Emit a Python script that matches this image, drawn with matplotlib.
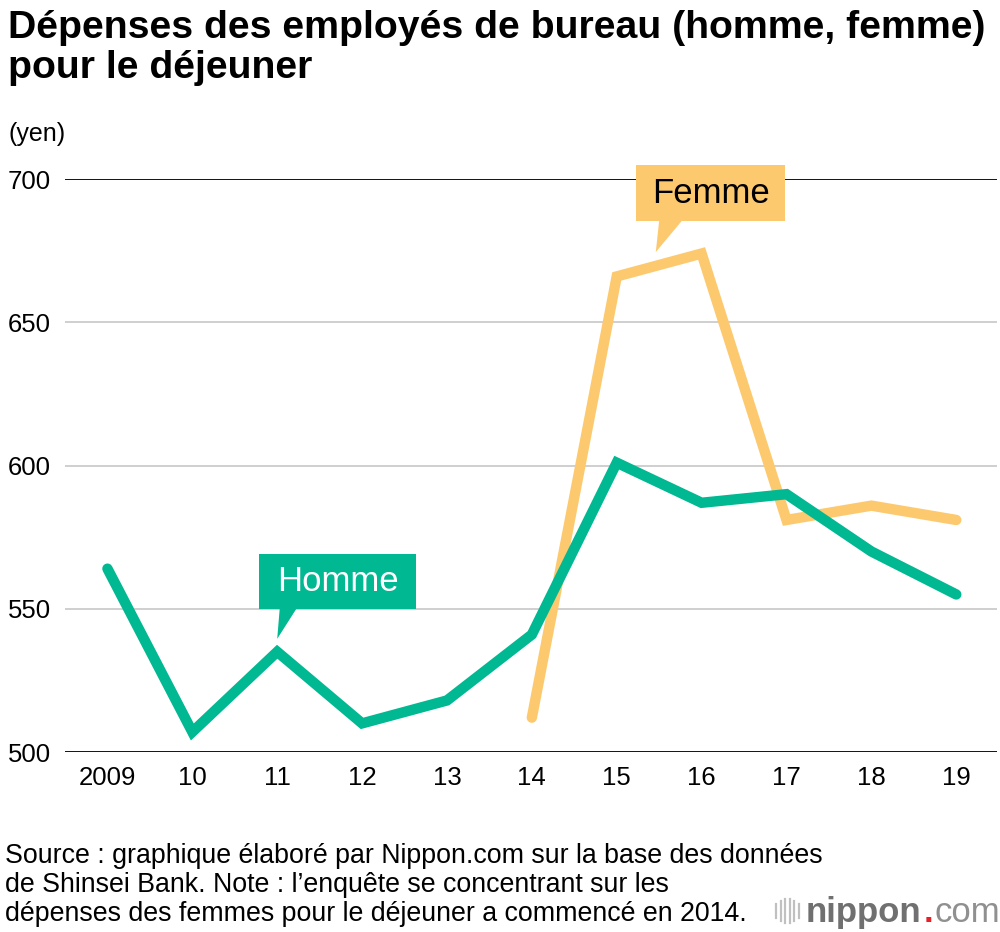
import matplotlib
matplotlib.use("Agg")
import matplotlib.pyplot as plt
from matplotlib.patches import Polygon, Rectangle

plt.rcParams['font.family'] = ['Liberation Sans', 'DejaVu Sans']

years = ["2009", "10", "11", "12", "13", "14", "15", "16", "17", "18", "19"]
homme = [564, 507, 535, 510, 518, 541, 601, 587, 590, 570, 555]
femme_years = ["14", "15", "16", "17", "18", "19"]
femme = [512, 666, 674, 581, 586, 581]
yticks = [500, 550, 600, 650, 700]
source_lines = [
    "Source : graphique élaboré par Nippon.com sur la base des données",
    "de Shinsei Bank. Note : l’enquête se concentrant sur les",
    "dépenses des femmes pour le déjeuner a commencé en 2014.",
]

GREEN = '#00b891'
ORANGE = '#fdc96f'

fig = plt.figure(figsize=(10, 9.32), dpi=100)
ax = fig.add_axes([0.065, 0.1931, 0.932, 0.6148])

xh = list(range(len(years)))
xf = [years.index(y) for y in femme_years]

for v in yticks:
    if v in (500, 700):
        ax.axhline(v, color='black', lw=1.3, zorder=1)
    else:
        ax.axhline(v, color='#cccccc', lw=1.3, zorder=1)

ax.plot(xf, femme, color=ORANGE, lw=7.5, solid_joinstyle='miter', solid_capstyle='round', zorder=3)
ax.plot(xh, homme, color=GREEN, lw=7.5, solid_joinstyle='miter', solid_capstyle='round', zorder=4)

ax.set_xlim(-0.5, 10.48)
ax.set_ylim(500, 700)
ax.set_xticks(xh)
ax.set_xticklabels(years, fontsize=18.5)
ax.set_yticks(yticks)
ax.set_yticklabels([str(v) for v in yticks], fontsize=18.5, ha='left')
ax.tick_params(axis='y', length=0, pad=41)
ax.tick_params(axis='x', length=0, pad=10)
for s in ax.spines.values():
    s.set_visible(False)

# Femme callout
ax.add_patch(Rectangle((6.23, 685.3), 1.75, 19.6, facecolor=ORANGE, edgecolor='none', clip_on=False, zorder=5))
ax.add_patch(Polygon([(6.50, 685.5), (6.77, 685.5), (6.46, 674.5)], closed=True, facecolor=ORANGE, edgecolor='none', clip_on=False, zorder=5))
ax.text(7.105, 695.1, "Femme", fontsize=25, color='black', ha='center', va='center', zorder=6)

# Homme callout
ax.add_patch(Rectangle((1.78, 549.9), 1.86, 19.2, facecolor=GREEN, edgecolor='none', clip_on=False, zorder=5))
ax.add_patch(Polygon([(2.03, 550.2), (2.23, 550.2), (2.0, 539.5)], closed=True, facecolor=GREEN, edgecolor='none', clip_on=False, zorder=5))
ax.text(2.71, 559.5, "Homme", fontsize=25, color='white', ha='center', va='center', zorder=6)

fig.text(0.008, 0.989, "Dépenses des employés de bureau (homme, femme)\npour le déjeuner",
         fontsize=28.3, fontweight='bold', ha='left', va='top', linespacing=1.12)
fig.text(0.008, 0.856, "(yen)", fontsize=18, ha='left', va='center')

for i, line in enumerate(source_lines):
    fig.text(0.005, 0.0735 - i * 0.0306, line, fontsize=19.3, ha='left', va='baseline')

# nippon.com logo
for i, h in enumerate([0.55, 0.8, 1.0, 1.0, 0.8, 0.55]):
    xx = 0.776 + i * 0.0045
    fig.add_artist(plt.Line2D([xx, xx], [0.0225 - 0.013 * h, 0.0225 + 0.013 * h], color='#c0c0c0', lw=1.6))
fig.canvas.draw()
r = fig.canvas.get_renderer()
t1 = fig.text(0.806, 0.011, "nippon", fontsize=25, fontweight='bold', color='#707070', ha='left', va='baseline')
bb = t1.get_window_extent(r)
x2 = bb.x1 / fig.bbox.width + 0.002
t2 = fig.text(x2, 0.011, ".", fontsize=25, fontweight='bold', color='#e8202a', ha='left', va='baseline')
bb2 = t2.get_window_extent(r)
x3 = bb2.x1 / fig.bbox.width + 0.001
fig.text(x3, 0.011, "com", fontsize=25, color='#909090', ha='left', va='baseline')

fig.savefig("out.png", dpi=100)
